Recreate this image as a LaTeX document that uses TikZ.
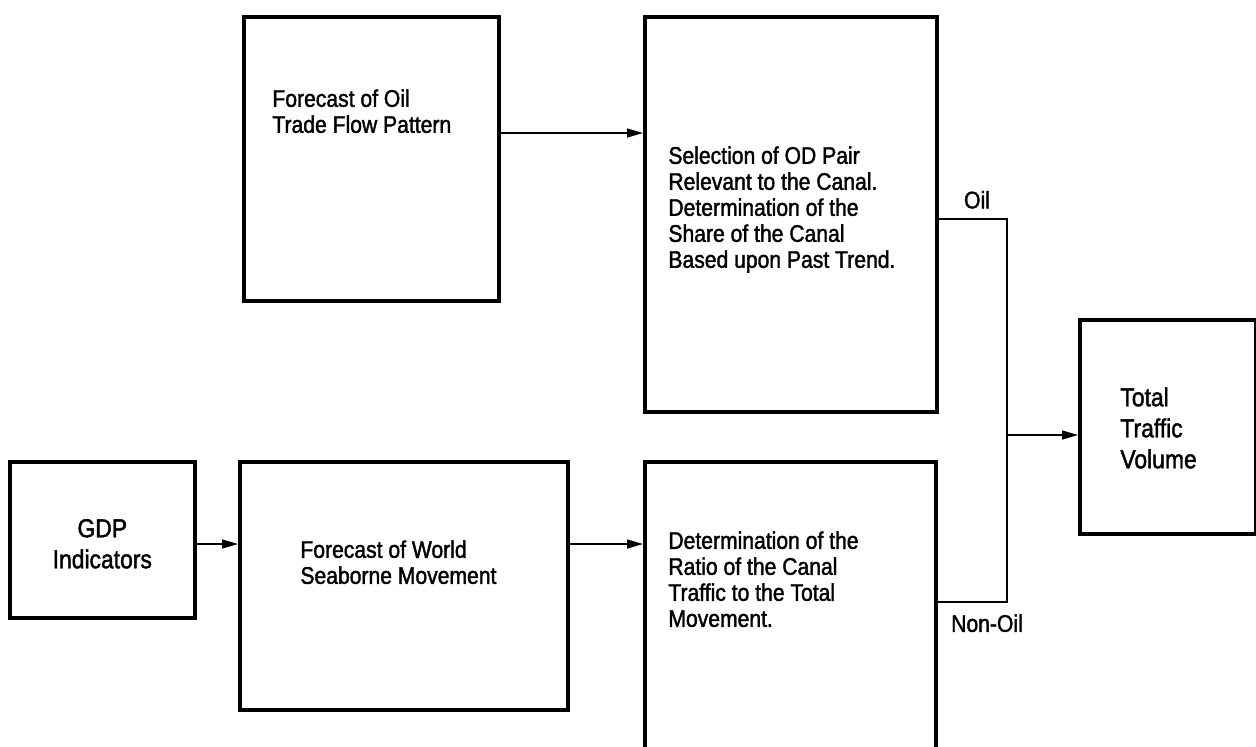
\documentclass[tikz,border=0pt]{standalone}
\usepackage{fontspec}
\setmainfont{Liberation Sans}[FakeStretch=0.88, FakeBold=1.6]
\usetikzlibrary{arrows.meta,positioning}

\tikzset{
  box/.style={draw, line width=1.8pt, rectangle, inner sep=0pt},
  txt/.style={align=left, inner sep=0pt, font=\fontsize{12}{13}\selectfont},
  bigtxt/.style={txt, font=\fontsize{13}{15.5}\selectfont},
  conn/.style={line width=0.7pt},
  arr/.style={conn, -{Triangle[length=8pt,width=4.5pt]}},
}

\begin{document}
\begin{tikzpicture}[x=0.5pt, y=-0.5pt]
  \useasboundingbox (0,0) rectangle (1256,746);
  % Boxes
  \node[box, minimum width=127.5pt, minimum height=142pt, anchor=north west] (oilflow) at (242,15) {};
  \node[box, minimum width=146pt, minimum height=197.5pt, anchor=north west] (odpair) at (643,15) {};
  \node[box, minimum width=92.5pt, minimum height=78pt, anchor=north west] (gdp) at (8,460) {};
  \node[box, minimum width=164pt, minimum height=124pt, anchor=north west] (world) at (238,460) {};
  \node[box, minimum width=145.5pt, minimum height=160pt, anchor=north west] (ratio) at (643,460) {};
  \node[box, minimum width=88pt, minimum height=107pt, anchor=north west] (total) at (1078,318) {};
  % Texts
  \node[txt, anchor=north west] (oilflowtxt) at (272,89) {Forecast of Oil\\Trade Flow Pattern};
  \node[txt, anchor=north west] (odpairtxt) at (668,146) {Selection of OD Pair\\Relevant to the Canal.\\Determination of the\\Share of the Canal\\Based upon Past Trend.};
  \node[bigtxt, align=center] (gdptxt) at ([yshift=-2pt]gdp.center) {GDP\\Indicators};
  \node[txt, anchor=north west] (worldtxt) at (300,540) {Forecast of World\\Seaborne Movement};
  \node[txt, anchor=north west] (ratiotxt) at (668,531) {Determination of the\\Ratio of the Canal\\Traffic to the Total\\Movement.};
  \node[bigtxt, anchor=north west] (totaltxt) at (1120,387) {Total\\Traffic\\Volume};
  % Junction points
  \coordinate (ya) at (0,133);
  \coordinate (yb) at (0,544);
  \coordinate (oilturn) at (1007,219);
  \coordinate (nonoilturn) at (1007,602);
  \coordinate (join) at (1007,435);
  % Connectors
  \draw[arr] (oilflow.east |- ya) -- (odpair.west |- ya);
  \draw[arr] (gdp.east |- yb) -- (world.west |- yb);
  \draw[arr] (world.east |- yb) -- (ratio.west |- yb);
  \draw[conn] (odpair.east |- oilturn) -- (oilturn) -- (nonoilturn) -- (ratio.east |- nonoilturn);
  \draw[arr] (join) -- (total.west |- join);
  % Branch labels
  \node[txt, above=5pt of oilturn, xshift=-15pt] (oillbl) {Oil};
  \node[txt, below=6pt of nonoilturn, xshift=-10pt] (nonoillbl) {Non-Oil};
\end{tikzpicture}
\end{document}
